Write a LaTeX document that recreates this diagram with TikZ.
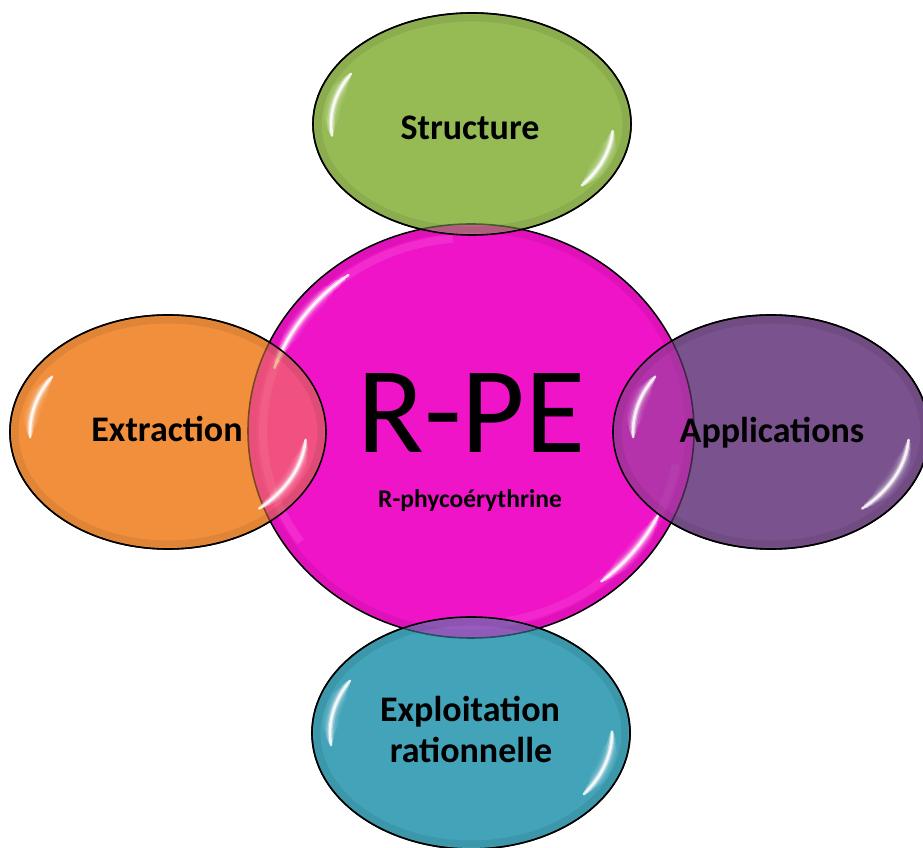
\documentclass[tikz,border=0pt]{standalone}
\usepackage{fontspec}
\setmainfont{Carlito}
\definecolor{rpemag}{HTML}{F014C8}
\definecolor{bubgreen}{HTML}{96BB55}
\definecolor{buborange}{HTML}{F28F3C}
\definecolor{bubpurple}{HTML}{7A528E}
\definecolor{bubteal}{HTML}{42A3B9}
% soft white highlight along an elliptic arc: cx, cy, rx, ry, start, end
\newcommand{\glossarc}[6]{%
  \foreach \w/\o/\f in {16/0.06/0.32, 12/0.10/0.24, 8/0.20/0.14, 5/0.40/0.08, 2.6/0.85/0.03}{
    \pgfmathsetmacro{\sa}{#5+\f*(#6-#5)}
    \pgfmathsetmacro{\ea}{#6-\f*(#6-#5)}
    \draw[white, line width=\w pt, draw opacity=\o, line cap=round]
      (#1,#2) ++(\sa:#3 and #4) arc[start angle=\sa, end angle=\ea, x radius=#3, y radius=#4];
  }}
% faint darker band just inside a bubble's edge: cx, cy, rx, ry
\newcommand{\bevel}[4]{%
  \draw[black, line width=7pt, draw opacity=0.07] (#1,#2) ellipse [x radius=#3-5, y radius=#4-5];
}
\begin{document}
\begin{tikzpicture}[x=1pt,y=1pt]
\tikzset{
  rim/.style={draw=black, line width=1.6pt},
  lbl/.style={font=\bfseries\fontsize{36}{38}\selectfont, text=black, anchor=base, inner sep=0pt},
  sub/.style={font=\bfseries\fontsize{25.5}{28}\selectfont, text=black, anchor=base, inner sep=0pt},
  big/.style={font=\fontsize{123}{123}\selectfont, text=black, anchor=base, inner sep=0pt},
}
\useasboundingbox (0,0) rectangle (923,848);
\clip (0,0) rectangle (923,848);

% centres of the five shapes
\coordinate (cC) at (471,417);
\coordinate (cS) at (472,724);
\coordinate (cE) at (168,416);
\coordinate (cA) at (771,416);
\coordinate (cX) at (471,115);

% outer bubbles, opaque base
\filldraw[rim, fill=bubgreen]  (cS) ellipse [x radius=159, y radius=111];
\filldraw[rim, fill=buborange] (cE) ellipse [x radius=158, y radius=117];
\filldraw[rim, fill=bubpurple] (cA) ellipse [x radius=158, y radius=117];
\filldraw[rim, fill=bubteal]   (cX) ellipse [x radius=159, y radius=116];

% central disc
\filldraw[rim, fill=rpemag] (cC) ellipse [x radius=223, y radius=207];
\bevel{471}{417}{223}{207}
\draw[white, line width=8pt, draw opacity=0.10] (cC) ++(95:208 and 193) arc[start angle=95, end angle=215, x radius=208, y radius=193];
\draw[white, line width=8pt, draw opacity=0.08] (cC) ++(-10:208 and 193) arc[start angle=-10, end angle=-80, x radius=208, y radius=193];
\glossarc{471}{417}{208}{193}{125}{162}
\glossarc{471}{417}{208}{193}{-25}{-52}

% outer bubbles again, see-through where they overlap the disc
\filldraw[rim, fill=bubgreen,  fill opacity=0.5] (cS) ellipse [x radius=159, y radius=111];
\filldraw[rim, fill=buborange, fill opacity=0.5] (cE) ellipse [x radius=158, y radius=117];
\filldraw[rim, fill=bubpurple, fill opacity=0.5] (cA) ellipse [x radius=158, y radius=117];
\filldraw[rim, fill=bubteal,   fill opacity=0.5] (cX) ellipse [x radius=159, y radius=116];
\bevel{472}{724}{159}{111}
\bevel{168}{416}{158}{117}
\bevel{771}{416}{158}{117}
\bevel{471}{115}{159}{116}

% highlights on the outer bubbles
\glossarc{472}{724}{141}{98}{148}{188}
\glossarc{472}{724}{141}{98}{-3}{-40}
\glossarc{168}{416}{138}{102}{146}{184}
\glossarc{168}{416}{138}{102}{-3}{-50}
\glossarc{771}{416}{138}{102}{146}{184}
\glossarc{771}{416}{138}{102}{-3}{-50}
\glossarc{471}{115}{141}{102}{148}{188}
\glossarc{471}{115}{141}{102}{2}{-38}

% labels
\node[big] (rpe) at (471.5,395) {R-PE};
\node[sub] (rpename) at (470,340) {R-phycoérythrine};
\node[lbl] (tS) at (470,708) {Structure};
\node[lbl] (tE) at (167,406) {Extraction};
\node[lbl] (tA) at (772,405) {Applications};
\node[lbl] (tX1) at (470,126) {Exploitation};
\node[lbl] (tX2) at (471,85) {rationnelle};
\end{tikzpicture}
\end{document}
